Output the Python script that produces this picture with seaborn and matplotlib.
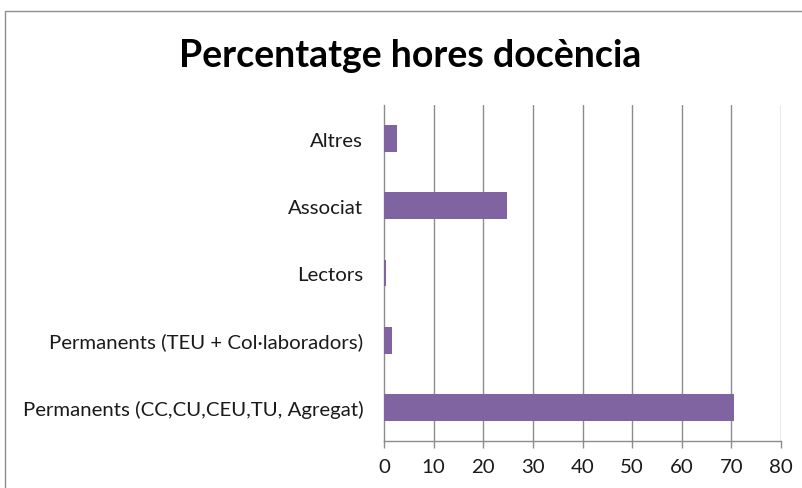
import matplotlib
matplotlib.use("Agg")
import matplotlib.pyplot as plt
import seaborn as sns
import pandas as pd
from matplotlib.patches import Rectangle

categories = [
    "Altres",
    "Associat",
    "Lectors",
    "Permanents (TEU + Col·laboradors)",
    "Permanents (CC,CU,CEU,TU, Agregat)",
]
values = [2.6, 24.7, 0.45, 1.55, 70.6]
x_ticks = [0, 10, 20, 30, 40, 50, 60, 70, 80]

sns.set_theme(style="white")
plt.rcParams["font.family"] = ["Lato", "DejaVu Sans"]

df = pd.DataFrame({"categoria": categories, "valor": values})

fig = plt.figure(figsize=(8.02, 4.89), dpi=100)
ax = fig.add_axes([384 / 802, 1 - 442 / 489, (781 - 384) / 802, (442 - 106) / 489])

sns.barplot(data=df, x="valor", y="categoria", order=categories, orient="h",
            color="#8064A2", saturation=1, width=0.4, ax=ax, zorder=3, linewidth=0)

ax.set_xlim(0, 80)
ax.set_ylim(4.5, -0.5)
ax.set_xticks(x_ticks)
ax.set_xticklabels([str(t) for t in x_ticks])
ax.set_xlabel("")
ax.set_ylabel("")

for t in x_ticks[1:]:
    ax.axvline(t, color="#8c8c8c", linewidth=1.0, zorder=0)

for side in ["top", "right"]:
    ax.spines[side].set_visible(False)
for side in ["left", "bottom"]:
    ax.spines[side].set_color("#8c8c8c")
    ax.spines[side].set_linewidth(1.0)

ax.set_yticks([i - 0.5 for i in range(len(categories) + 1)], minor=True)
ax.tick_params(axis="y", which="major", length=0, pad=15, labelsize=14.7, labelcolor="#1a1a1a")
ax.tick_params(axis="y", which="minor", length=5, width=1, color="#8c8c8c", direction="out")
ax.tick_params(axis="x", which="major", length=5, width=1, color="#8c8c8c", direction="out",
               bottom=True, labelsize=14.7, labelcolor="#1a1a1a", pad=7)

fig.text(410 / 802, 1 - 56 / 489, "Percentatge hores docència", ha="center", va="center",
         fontsize=27, fontweight="bold", color="#000000")

fig.patches.append(Rectangle((5 / 802, -0.1), 1.2, 1 - 12 / 489 + 0.1, transform=fig.transFigure,
                             fill=False, edgecolor="#8c8c8c", linewidth=1.0))

fig.savefig("out.png", dpi=100)
